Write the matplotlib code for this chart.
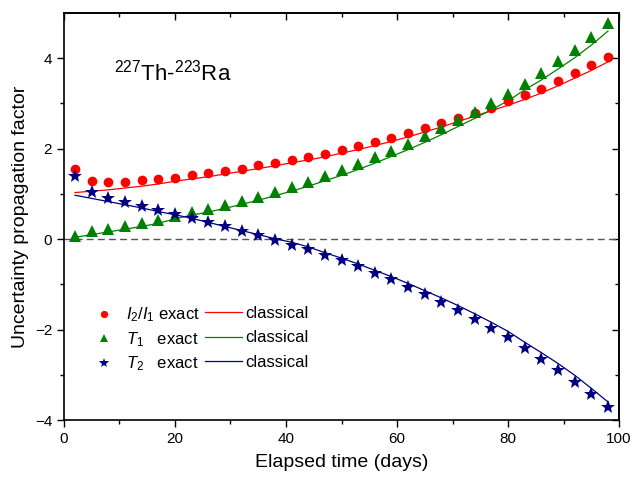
import matplotlib
matplotlib.use("Agg")
import matplotlib.pyplot as plt
import numpy as np

plt.rcParams['font.family'] = ['Liberation Sans', 'DejaVu Sans']
plt.rcParams['mathtext.fontset'] = 'custom'
plt.rcParams['mathtext.rm'] = 'Liberation Sans'
plt.rcParams['mathtext.it'] = 'Liberation Sans:italic'

# elapsed time (days)
days = [2, 5, 8, 11, 14, 17, 20, 23, 26, 29, 32, 35, 38, 41, 44, 47, 50,
        53, 56, 59, 62, 65, 68, 71, 74, 77, 80, 83, 86, 89, 92, 95, 98]

# exact values
ratio_exact = [1.56, 1.29, 1.26, 1.27, 1.30, 1.33, 1.36, 1.41, 1.46, 1.51, 1.56,
               1.63, 1.69, 1.75, 1.82, 1.89, 1.97, 2.06, 2.14, 2.24, 2.34, 2.45,
               2.56, 2.67, 2.79, 2.91, 3.05, 3.18, 3.33, 3.50, 3.67, 3.85, 4.03]
t1_exact = [0.08, 0.18, 0.23, 0.29, 0.36, 0.43, 0.51, 0.59, 0.67, 0.76, 0.85,
            0.94, 1.05, 1.15, 1.27, 1.40, 1.52, 1.66, 1.81, 1.94, 2.10, 2.28,
            2.45, 2.63, 2.81, 3.00, 3.20, 3.44, 3.67, 3.93, 4.19, 4.47, 4.77]
t2_exact = [1.40, 1.05, 0.91, 0.81, 0.73, 0.64, 0.56, 0.47, 0.38, 0.29, 0.19,
            0.10, -0.01, -0.12, -0.22, -0.35, -0.47, -0.60, -0.74, -0.89, -1.05,
            -1.22, -1.39, -1.57, -1.76, -1.97, -2.17, -2.40, -2.64, -2.89, -3.15,
            -3.43, -3.72]

# classical values
ratio_class = [1.03, 1.06, 1.09, 1.13, 1.17, 1.22, 1.28, 1.33, 1.38, 1.44, 1.50,
               1.56, 1.62, 1.69, 1.75, 1.82, 1.90, 1.98, 2.07, 2.16, 2.26, 2.37,
               2.48, 2.60, 2.72, 2.84, 2.96, 3.09, 3.23, 3.39, 3.56, 3.73, 3.92]
t1_class = [0.04, 0.10, 0.16, 0.22, 0.28, 0.35, 0.45, 0.53, 0.60, 0.68, 0.77,
            0.86, 0.96, 1.06, 1.17, 1.29, 1.41, 1.54, 1.68, 1.83, 1.98, 2.14,
            2.31, 2.49, 2.67, 2.86, 3.06, 3.30, 3.52, 3.76, 4.01, 4.29, 4.60]
t2_class = [0.97, 0.90, 0.83, 0.76, 0.69, 0.61, 0.54, 0.46, 0.37, 0.28, 0.19,
            0.10, 0.01, -0.07, -0.17, -0.30, -0.42, -0.55, -0.69, -0.83, -0.98,
            -1.14, -1.30, -1.47, -1.65, -1.84, -2.04, -2.28, -2.51, -2.75, -3.01,
            -3.30, -3.60]

exact_labels = [r'$I_2/I_1$ exact', r'$T_1$   exact', r'$T_2$   exact']
class_labels = ['classical', 'classical', 'classical']

fig = plt.figure(figsize=(6.33, 4.82), dpi=100)
ax = fig.add_axes([0.101, 0.1286, 0.877, 0.8444])

ax.axhline(0, color='#555555', lw=1.0, ls=(0, (5, 3)), zorder=1)

p1, = ax.plot(days, ratio_exact, 'o', color='#ff0000', ms=7, mew=0, zorder=3)
p2, = ax.plot(days, t1_exact, '^', color='#008000', ms=8, mew=0, zorder=3)
p3, = ax.plot(days, t2_exact, '*', color='#000080', ms=10, mew=0, zorder=3)
l1, = ax.plot(days, ratio_class, '-', color='#ff0000', lw=0.9, zorder=2)
l2, = ax.plot(days, t1_class, '-', color='#008000', lw=0.9, zorder=2)
l3, = ax.plot(days, t2_class, '-', color='#000080', lw=0.9, zorder=2)

ax.set_xlim(0, 100)
ax.set_ylim(-4, 5)
ax.set_xticks([0, 20, 40, 60, 80, 100])
ax.set_xticks([10, 30, 50, 70, 90], minor=True)
ax.set_yticks([-4, -2, 0, 2, 4])
ax.set_yticks([-3, -1, 1, 3], minor=True)
ax.tick_params(which='major', direction='out', length=5, width=1, labelsize=11)
ax.tick_params(which='minor', direction='out', length=3, width=1)
for s in ax.spines.values():
    s.set_linewidth(1.2)

secx = ax.secondary_xaxis('top')
secx.set_xticks([0, 20, 40, 60, 80, 100])
secx.set_xticks([10, 30, 50, 70, 90], minor=True)
secx.tick_params(which='major', direction='in', length=5, width=1, labeltop=False)
secx.tick_params(which='minor', direction='in', length=3, width=1)
secy = ax.secondary_yaxis('right')
secy.set_yticks([-4, -2, 0, 2, 4])
secy.set_yticks([-3, -1, 1, 3], minor=True)
secy.tick_params(which='major', direction='in', length=5, width=1, labelright=False)
secy.tick_params(which='minor', direction='in', length=3, width=1)
secx.spines['top'].set_linewidth(1.2)
secy.spines['right'].set_linewidth(1.2)

ax.set_xlabel('Elapsed time (days)', fontsize=14, labelpad=6)
ax.set_ylabel('Uncertainty propagation factor', fontsize=14, labelpad=4)

ax.text(0.09, 0.835, r'$^{227}$Th-$^{223}$Ra', transform=ax.transAxes,
        fontsize=16, ha='left', va='baseline')

# two legends side by side: markers (exact) and lines (classical)
leg_exact = ax.legend([p1, p2, p3], exact_labels,
                      loc='upper left', bbox_to_anchor=(0.013, 0.318),
                      frameon=False, fontsize=12, markerscale=0.75,
                      handlelength=2.2, handletextpad=0.2, labelspacing=0.35)
ax.add_artist(leg_exact)
ax.legend([l1, l2, l3], class_labels,
          loc='upper left', bbox_to_anchor=(0.227, 0.318),
          frameon=False, fontsize=12, handlelength=2.2,
          handletextpad=0.2, labelspacing=0.59)

fig.savefig('out.png', dpi=100)
